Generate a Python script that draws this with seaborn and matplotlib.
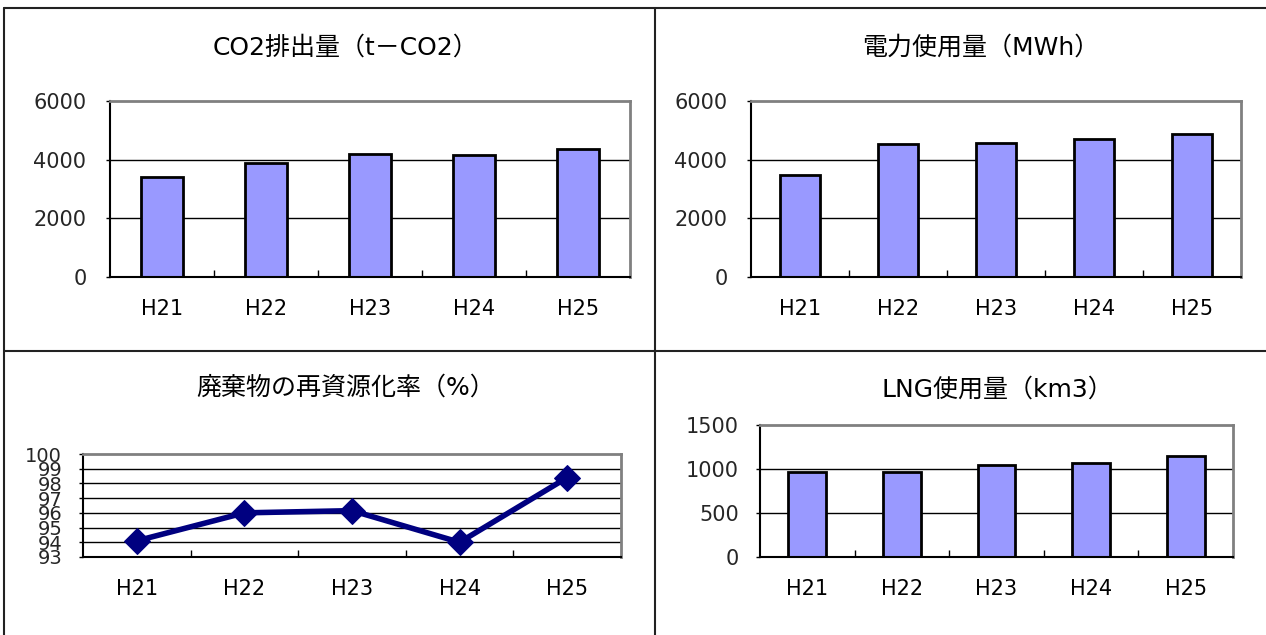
import numpy as np
import pandas as pd
import seaborn as sns
import matplotlib
matplotlib.use("agg")
import matplotlib.pyplot as plt
from matplotlib.lines import Line2D
from matplotlib.ticker import FixedLocator

# data
years = ['H21', 'H22', 'H23', 'H24', 'H25']
co2 = [3425, 3870, 4205, 4170, 4355]
power = [3475, 4550, 4585, 4690, 4860]
recycle = [94.1, 96.0, 96.15, 94.0, 98.4]
lng = [963, 967, 1047, 1069, 1145]

titles = ['CO2排出量（t－CO2）', '電力使用量（MWh）', '廃棄物の再資源化率（%）', 'LNG使用量（km3）']

sns.set_theme(style='white')
plt.rcParams['font.family'] = ['DejaVu Sans', 'Noto Sans CJK JP']
plt.rcParams['font.size'] = 15
plt.rcParams['axes.unicode_minus'] = False

W, H = 1266, 635
fig = plt.figure(figsize=(W / 100, H / 100), dpi=100)
fig.patch.set_facecolor('white')


def box(l, r, t, b):
    # pixel box -> figure fraction
    return [l / W, 1 - b / H, (r - l) / W, (b - t) / H]


def style_ax(ax, ylim, yticks, ypad):
    ax.set_xlim(-0.5, 4.5)
    ax.set_ylim(*ylim)
    ax.set_yticks(yticks)
    ax.set_xlabel('')
    ax.set_ylabel('')
    ax.set_facecolor('white')
    ax.grid(False)
    for y in yticks[1:-1]:
        ax.axhline(y, color='black', linewidth=1, zorder=0)
    ax.spines['left'].set_color('black')
    ax.spines['bottom'].set_color('black')
    ax.spines['left'].set_linewidth(1.5)
    ax.spines['bottom'].set_linewidth(1.5)
    ax.spines['top'].set_color('#808080')
    ax.spines['right'].set_color('#808080')
    ax.spines['top'].set_linewidth(2)
    ax.spines['right'].set_linewidth(2)
    for s in ax.spines.values():
        s.set_visible(True)
    ax.xaxis.set_minor_locator(FixedLocator([0.5, 1.5, 2.5, 3.5]))
    ax.tick_params(axis='x', which='major', length=0, pad=16, labelsize=15, colors='black')
    ax.tick_params(axis='x', which='minor', direction='in', length=5, width=1, color='black', bottom=True)
    ax.tick_params(axis='y', which='major', direction='out', length=3, width=1, color='black',
                   pad=ypad, labelsize=15, left=True)


bar_kw = dict(color='#9999FF', edgecolor='black', linewidth=2, width=0.4, saturation=1)

# CO2
ax1 = fig.add_axes(box(110, 630, 101, 277))
sns.barplot(x=years, y=co2, ax=ax1, **bar_kw)
style_ax(ax1, (0, 6000), [0, 2000, 4000, 6000], 14)

# power
ax2 = fig.add_axes(box(751, 1241, 101, 277))
sns.barplot(x=years, y=power, ax=ax2, **bar_kw)
style_ax(ax2, (0, 6000), [0, 2000, 4000, 6000], 14)

# recycle rate
ax3 = fig.add_axes(box(83, 621, 454, 557))
sns.lineplot(x=years, y=recycle, ax=ax3, color='#000080', linewidth=4,
             marker='D', markersize=13, markeredgecolor='#000080', sort=False)
style_ax(ax3, (93, 100), list(range(93, 101)), 12)
ax3.tick_params(axis='y', labelsize=14)

# LNG
ax4 = fig.add_axes(box(760, 1233, 425, 557))
sns.barplot(x=years, y=lng, ax=ax4, **bar_kw)
style_ax(ax4, (0, 1500), [0, 500, 1000, 1500], 12)

# titles
for (cx, cy), t in zip([(345, 48), (981, 48), (346, 388), (997, 390)], titles):
    fig.text(cx / W, 1 - cy / H, t, ha='center', va='center', fontsize=18, color='black')

# table borders
lc = '#222222'
fig.add_artist(Line2D([4 / W, 1], [1 - 8 / H, 1 - 8 / H], color=lc, linewidth=1.5))
fig.add_artist(Line2D([4 / W, 4 / W], [0, 1 - 8 / H], color=lc, linewidth=1.5))
fig.add_artist(Line2D([655 / W, 655 / W], [0, 1 - 8 / H], color=lc, linewidth=1.5))
fig.add_artist(Line2D([4 / W, 1], [1 - 351 / H, 1 - 351 / H], color=lc, linewidth=1.5))

plt.savefig('out.png', dpi=100, facecolor='white')
plt.close()
